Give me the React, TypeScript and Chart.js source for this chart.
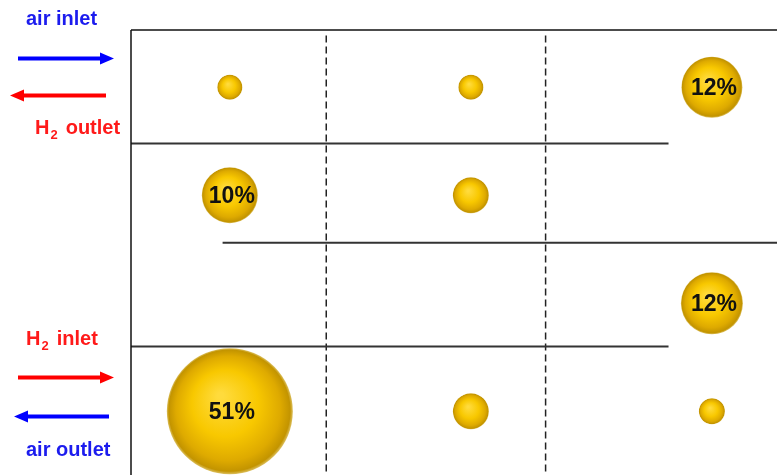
import React, { useEffect, useRef } from 'react';
import { Chart, registerables } from 'chart.js';

Chart.register(...registerables);

// Bubble data (x = column, y = row from bottom, r = bubble radius in px)
const bubbleX = [1, 2, 3, 1, 2, 3, 1, 2, 3];
const bubbleY = [4, 4, 4, 3, 3, 2, 1, 1, 1];
const bubbleR = [12.5, 12.5, 30.5, 28, 18, 31, 63, 18, 13];
const bubbleLabels = ['', '', '12%', '10%', '', '12%', '51%', '', ''];

// Axis ranges
const xRange = [0.59, 3.27];
const yRange = [0.41, 4.53];

// Flow-channel divider lines
const hLineY = [3.48, 2.56, 1.6];
const hLineStart = [0.59, 0.97, 0.59];
const hLineEnd = [2.82, 3.27, 2.82];
const dashedX = [1.4, 2.31];
const dashedTop = 4.48;

// Side annotations
const sideTexts = [
  { main: 'air inlet', sub: '', after: '', color: '#1c1cee', x: 26, y: 25 },
  { main: 'H', sub: '2', after: 'outlet', color: '#ff1a1a', x: 35, y: 134 },
  { main: 'H', sub: '2', after: 'inlet', color: '#ff1a1a', x: 26, y: 345 },
  { main: 'air outlet', sub: '', after: '', color: '#1c1cee', x: 26, y: 456 },
];
const sideArrows = [
  { from: 18, to: 114, y: 58.5, color: '#0000ff' },
  { from: 106, to: 10, y: 95.5, color: '#ff0000' },
  { from: 18, to: 114, y: 377.5, color: '#ff0000' },
  { from: 109, to: 14, y: 416.5, color: '#0000ff' },
];

const sidePlugin = {
  id: 'sideAnnotations',
  afterDraw(chart: any) {
    const ctx = chart.ctx as CanvasRenderingContext2D;
    ctx.save();
    sideArrows.forEach((a) => {
      const dir = a.to > a.from ? 1 : -1;
      const headLen = 14;
      const half = 6;
      ctx.strokeStyle = a.color;
      ctx.fillStyle = a.color;
      ctx.lineWidth = 4;
      ctx.beginPath();
      ctx.moveTo(a.from, a.y);
      ctx.lineTo(a.to - dir * headLen, a.y);
      ctx.stroke();
      ctx.beginPath();
      ctx.moveTo(a.to, a.y);
      ctx.lineTo(a.to - dir * headLen, a.y - half);
      ctx.lineTo(a.to - dir * headLen, a.y + half);
      ctx.closePath();
      ctx.fill();
    });
    ctx.textBaseline = 'alphabetic';
    ctx.textAlign = 'left';
    sideTexts.forEach((t) => {
      ctx.fillStyle = t.color;
      ctx.font = 'bold 20px "Liberation Sans", Arial, sans-serif';
      ctx.fillText(t.main, t.x, t.y);
      let cx = t.x + ctx.measureText(t.main).width + 1;
      if (t.sub) {
        ctx.font = 'bold 13px "Liberation Sans", Arial, sans-serif';
        ctx.fillText(t.sub, cx, t.y + 5);
        cx += ctx.measureText(t.sub).width + 8;
        ctx.font = 'bold 20px "Liberation Sans", Arial, sans-serif';
        ctx.fillText(t.after, cx, t.y);
      }
    });
    ctx.restore();
  },
};

const bubbleLabelPlugin = {
  id: 'bubbleLabels',
  afterDatasetsDraw(chart: any) {
    const meta = chart.getDatasetMeta(0);
    const ctx = chart.ctx as CanvasRenderingContext2D;
    ctx.save();
    ctx.fillStyle = '#111';
    ctx.font = 'bold 23px "Liberation Sans", Arial, sans-serif';
    ctx.textAlign = 'center';
    ctx.textBaseline = 'middle';
    meta.data.forEach((el: any, i: number) => {
      const label = bubbleLabels[i];
      if (label) ctx.fillText(label, el.x + 2, el.y + 1);
    });
    ctx.restore();
  },
};

function goldFill(c: any) {
  const fallback = '#f2c200';
  if (c.type !== 'data') return fallback;
  const chart = c.chart;
  const xs = chart.scales && chart.scales.x;
  const ys = chart.scales && chart.scales.y;
  const raw = c.raw;
  if (!xs || !ys || !raw) return fallback;
  const cx = xs.getPixelForValue(raw.x);
  const cy = ys.getPixelForValue(raw.y);
  const r = raw.r;
  if (![cx, cy, r].every((v) => Number.isFinite(v))) return fallback;
  const g = chart.ctx.createRadialGradient(cx - r * 0.15, cy - r * 0.25, r * 0.05, cx, cy, r);
  g.addColorStop(0, '#ffdb3c');
  g.addColorStop(0.5, '#f8c800');
  g.addColorStop(0.82, '#deaa00');
  g.addColorStop(0.96, '#c39400');
  g.addColorStop(1, '#dcc060');
  return g;
}

export default function App() {
  const canvasRef = useRef<HTMLCanvasElement | null>(null);

  useEffect(() => {
    if (!canvasRef.current) return;
    const lineStyle = {
      type: 'line' as const,
      borderColor: '#333',
      borderWidth: 1.5,
      pointRadius: 0,
      fill: false,
      tension: 0,
      clip: false as any,
    };
    const datasets: any[] = [
      {
        type: 'bubble',
        data: bubbleX.map((x, i) => ({ x, y: bubbleY[i], r: bubbleR[i] })),
        backgroundColor: goldFill,
        borderWidth: 0,
        clip: false,
      },
      { ...lineStyle, borderColor: '#111', data: [{ x: xRange[0], y: yRange[0] }, { x: xRange[0], y: yRange[1] }] },
      { ...lineStyle, borderColor: '#111', data: [{ x: xRange[0], y: yRange[1] }, { x: xRange[1], y: yRange[1] }] },
    ];
    hLineY.forEach((y, i) => {
      datasets.push({ ...lineStyle, borderColor: '#333', borderWidth: 2, data: [{ x: hLineStart[i], y }, { x: hLineEnd[i], y }] });
    });
    dashedX.forEach((x) => {
      datasets.push({ ...lineStyle, borderColor: '#222', borderWidth: 1.5, borderDash: [7, 4], data: [{ x, y: dashedTop }, { x, y: yRange[0] }] });
    });

    const chart = new Chart(canvasRef.current, {
      type: 'bubble',
      data: { datasets },
      options: {
        animation: false,
        responsive: true,
        maintainAspectRatio: false,
        events: [],
        layout: { autoPadding: false, padding: { left: 131, top: 30, right: 0, bottom: 0 } },
        plugins: { legend: { display: false }, tooltip: { enabled: false } },
        scales: {
          x: { type: 'linear', min: xRange[0], max: xRange[1], display: false },
          y: { type: 'linear', min: yRange[0], max: yRange[1], display: false },
        },
      },
      plugins: [bubbleLabelPlugin, sidePlugin],
    } as any);
    return () => chart.destroy();
  }, []);

  return (
    <div style={{ position: 'absolute', left: 0, top: 0, width: 777, height: 475, background: '#fff' }}>
      <canvas ref={canvasRef} />
    </div>
  );
}
